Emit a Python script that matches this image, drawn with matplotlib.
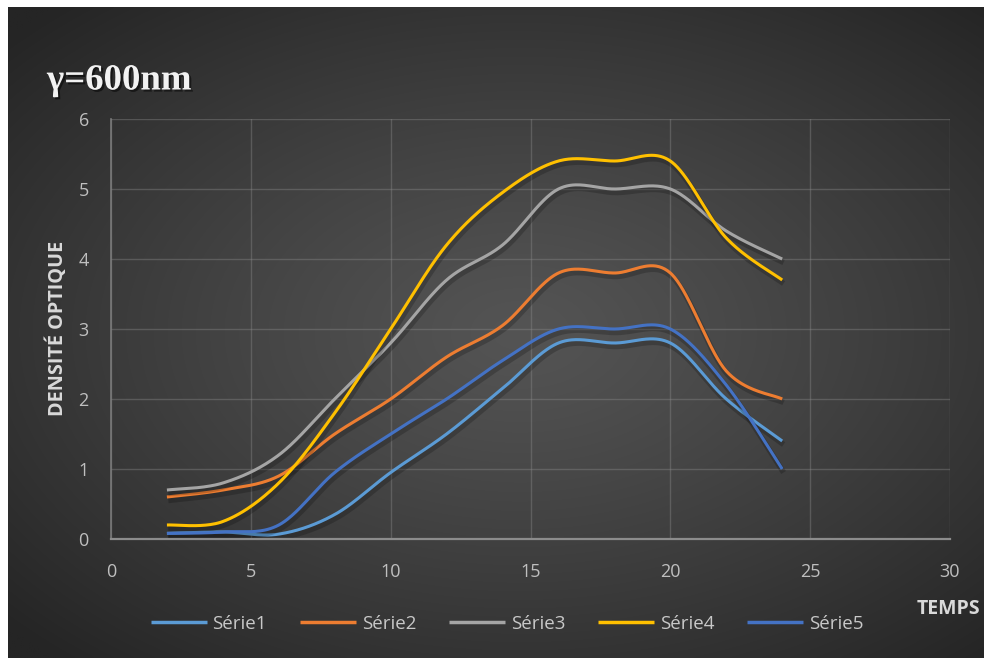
import numpy as np
import matplotlib
matplotlib.use("Agg")
import matplotlib.pyplot as plt
from matplotlib import patheffects as pe

# Measurement times and optical densities for each series
temps = [2, 4, 6, 8, 10, 12, 14, 16, 18, 20, 22, 24]
serie1 = [0.08, 0.10, 0.07, 0.35, 0.95, 1.50, 2.15, 2.80, 2.80, 2.80, 2.00, 1.40]
serie2 = [0.60, 0.70, 0.90, 1.50, 2.00, 2.60, 3.05, 3.80, 3.80, 3.80, 2.40, 2.00]
serie3 = [0.70, 0.80, 1.20, 2.00, 2.80, 3.70, 4.20, 5.00, 5.00, 5.00, 4.40, 4.00]
serie4 = [0.20, 0.25, 0.80, 1.80, 3.00, 4.20, 4.95, 5.40, 5.40, 5.40, 4.30, 3.70]
serie5 = [0.08, 0.10, 0.20, 0.95, 1.50, 2.00, 2.55, 3.00, 3.00, 3.00, 2.20, 1.00]

names = ["Série1", "Série2", "Série3", "Série4", "Série5"]
colors = ["#5B9BD5", "#ED7D31", "#A5A5A5", "#FFC000", "#4472C4"]
x_ticks = [0, 5, 10, 15, 20, 25, 30]
y_ticks = [0, 1, 2, 3, 4, 5, 6]


def smooth(xs, ys, n=40):
    """Bezier smoothing through every point (control points at 1/6 of neighbour spans)."""
    p = np.column_stack([xs, ys]).astype(float)
    ext = np.vstack([p[0], p, p[-1]])
    out = []
    t = np.linspace(0, 1, n)[:, None]
    for i in range(len(p) - 1):
        p0, p1, p2, p3 = ext[i], ext[i + 1], ext[i + 2], ext[i + 3]
        c1 = p1 + (p2 - p0) / 6.0
        c2 = p2 - (p3 - p1) / 6.0
        seg = ((1 - t) ** 3) * p1 + 3 * ((1 - t) ** 2) * t * c1 + 3 * (1 - t) * t ** 2 * c2 + t ** 3 * p2
        out.append(seg if i == 0 else seg[1:])
    s = np.vstack(out)
    return s[:, 0], s[:, 1]


W, H = 984, 658
fig = plt.figure(figsize=(W / 100, H / 100), dpi=100)
fig.patch.set_facecolor("white")

# Dark radial-gradient chart background (white margin on top and left)
bg_ax = fig.add_axes([8 / W, 0, 1 - 8 / W, 1 - 7 / H])
bg_ax.set_axis_off()
gx, gy = np.meshgrid(np.linspace(-1, 1, 400), np.linspace(-1, 1, 300))
r = np.sqrt(((gx - 0.05) / 1.05) ** 2 + ((gy - 0.0) / 1.0) ** 2)
r = np.clip(r / 1.35, 0, 1)
c_in, c_out = 0x54, 0x25
val = (c_in + (c_out - c_in) * r ** 1.2) / 255.0
img = np.dstack([val, val, val])
bg_ax.imshow(img, aspect="auto", extent=[0, 1, 0, 1], interpolation="bilinear")

ax = fig.add_axes([111 / W, 1 - 539 / H, (950 - 111) / W, (539 - 119) / H])
ax.patch.set_alpha(0)
ax.set_xlim(0, 30)
ax.set_ylim(0, 6)
ax.set_xticks(x_ticks)
ax.set_yticks(y_ticks)
ax.grid(True, color="#8a8a8a", alpha=0.4, linewidth=1)
ax.set_axisbelow(True)
for side in ["top", "right"]:
    ax.spines[side].set_visible(False)
ax.spines["left"].set_color("#7a7a7a")
ax.spines["bottom"].set_color("#8c8c8c")
ax.spines["left"].set_linewidth(1.2)
ax.spines["bottom"].set_linewidth(1.6)
ax.tick_params(axis="x", length=0, pad=17)
ax.tick_params(axis="y", length=0, pad=16)
for lab in ax.get_xticklabels() + ax.get_yticklabels():
    lab.set_fontfamily("Open Sans")
    lab.set_fontsize(13)
    lab.set_color("#bfbfbf")

shadow = [pe.SimpleLineShadow(offset=(1.0, -2.5), shadow_color="black", alpha=0.2, linewidth=4),
          pe.Normal()]
series = [serie1, serie2, serie3, serie4, serie5]
handles = []
for name, col, ys in zip(names, colors, series):
    sx, sy = smooth(temps, ys)
    ln, = ax.plot(sx, sy, color=col, linewidth=2.2, solid_capstyle="butt",
                  path_effects=shadow, label=name)
    handles.append(ln)

leg = fig.legend(handles=handles, labels=names, loc="center", bbox_to_anchor=(507 / W, 1 - 624 / H),
                 ncol=5, frameon=False, handlelength=3.0, columnspacing=1.75, handletextpad=0.3,
                 prop={"family": "Open Sans", "size": 13.5})
for t in leg.get_texts():
    t.set_color("#c8c8c8")
for lh in leg.get_lines():
    lh.set_linewidth(2.5)
    lh.set_path_effects([])

fig.text(47 / W, 1 - 80 / H, "γ=600nm", family="Liberation Serif", fontweight="bold",
         fontsize=26.5, color="#f2f2f2", va="center", ha="left",
         path_effects=[pe.SimplePatchShadow(offset=(1.5, -1.5), shadow_rgbFace="black", alpha=0.5), pe.Normal()])

fig.text(57 / W, 1 - 328 / H, "DENSITÉ OPTIQUE", rotation=90, family="Open Sans",
         fontweight="bold", fontsize=14.3, color="#d9d9d9", va="center", ha="center")
fig.text(980 / W, 1 - 609 / H, "TEMPS", family="Open Sans", fontweight="bold",
         fontsize=14, color="#d9d9d9", va="center", ha="right")

fig.savefig("out.png", dpi=100, facecolor=fig.get_facecolor())
